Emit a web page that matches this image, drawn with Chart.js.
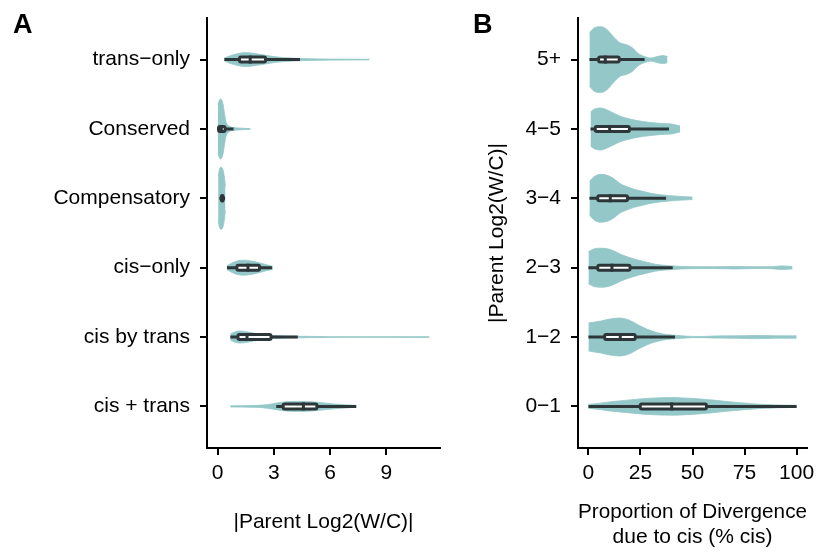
<!DOCTYPE html>
<html>
<head>
<meta charset="utf-8">
<script src="https://cdn.jsdelivr.net/npm/chart.js@4.4.1/dist/chart.umd.min.js"></script>
<style>
  body { margin: 0; background: #fff; }
  #wrap { position: relative; width: 817px; height: 552px; }
  canvas { position: absolute; top: 0; }
  .tag { position: absolute; font: bold 27px/27px "Liberation Sans", Arial, sans-serif; color: #000; }
</style>
</head>
<body>
<div id="wrap">
  <canvas id="chartA" width="450" height="552" style="left:0"></canvas>
  <canvas id="chartB" width="362" height="552" style="left:455px"></canvas>
  <div class="tag" style="left:13px;top:11px">A</div>
  <div class="tag" style="left:473px;top:11px">B</div>
</div>
<script>
// ---- panel A: regulatory categories ----
var typeLabels = ["trans\u2212only", "Conserved", "Compensatory", "cis\u2212only", "cis by trans", "cis + trans"];
var typeTicks = [0, 3, 6, 9];
// violin outline: x positions and density (relative width) at each
var typeGrid = [
  [0.36, 0.7, 1.1, 1.5, 2.0, 2.5, 3.0, 3.5, 4.0, 4.5, 5.0, 6.0, 7.0, 8.1],
  [0.02, 0.08, 0.15, 0.22, 0.3, 0.38, 0.45, 0.6, 0.8, 1.1, 1.4, 1.75],
  [0.03, 0.1, 0.18, 0.26, 0.34, 0.42],
  [0.5, 0.8, 1.1, 1.4, 1.7, 2.0, 2.3, 2.6, 2.95],
  [0.68, 0.9, 1.2, 1.5, 1.9, 2.4, 3.0, 3.6, 4.3, 5, 6, 7, 8, 9, 10, 11.3],
  [0.68, 1.2, 1.8, 2.4, 2.9, 3.3, 3.8, 4.3, 4.8, 5.3, 5.8, 6.3, 6.9, 7.4]
];
var typeDensity = [
  [1.5, 4, 6, 7, 6, 4.5, 3, 2, 1.5, 1, 0.8, 0.5, 0.4, 0.3],
  [24, 28, 30, 29, 24, 14, 7, 3, 1.5, 1, 0.6, 0.4],
  [22, 29, 31, 30, 24, 12],
  [2, 5, 7, 7.5, 7, 6, 4.5, 3, 1.5],
  [3, 5, 6, 5.5, 4, 2.5, 1.5, 1, 0.8, 0.6, 0.4, 0.3, 0.3, 0.3, 0.4, 0.4],
  [0.6, 0.7, 0.9, 1.3, 2.5, 3.8, 4.8, 5, 4.8, 4.2, 3.2, 2.3, 1.5, 1]
];
var typeLow = [0.36, 0, 0.1, 0.5, 0.68, 3.13];
var typeQ1 = [1.17, 0.05, 0.2, 1.03, 1.09, 3.5];
var typeMedian = [1.74, 0.2, 0.25, 1.62, 1.57, 4.58];
var typeQ3 = [2.56, 0.4, 0.3, 2.24, 2.85, 5.3];
var typeHigh = [4.4, 0.85, 0.4, 2.9, 4.28, 7.4];

// ---- panel B: fold-change bins ----
var foldLabels = ["5+", "4\u22125", "3\u22124", "2\u22123", "1\u22122", "0\u22121"];
var foldTicks = [0, 25, 50, 75, 100];
var foldGrid = [
  [0.5, 3, 6, 9, 12, 15, 18, 21, 24, 27, 30, 33, 36, 38],
  [1, 3, 6, 9, 12, 15, 18, 22, 26, 30, 35, 40, 44],
  [0.5, 3, 6, 9, 12, 15, 18, 22, 26, 30, 35, 40, 45, 50],
  [0, 3, 6, 9, 12, 16, 20, 24, 28, 32, 36, 40, 45, 50, 60, 70, 80, 88, 93, 98],
  [0, 3, 6, 9, 12, 15, 18, 21, 24, 28, 32, 36, 40, 45, 50, 55, 60, 70, 80, 85, 90, 95, 100],
  [0, 5, 10, 15, 20, 25, 30, 35, 40, 45, 50, 55, 60, 65, 70, 75, 80, 85, 90, 95, 100]
];
var foldDensity = [
  [27, 32, 33, 30, 23, 17, 15, 12, 6, 3, 1.5, 3, 4, 3],
  [17, 20, 21, 19, 16, 13, 11, 9, 7.5, 6.5, 5.5, 5, 3],
  [17, 22, 24, 23, 20, 15, 12, 9, 7, 5, 3.5, 2.5, 1.8, 1.2],
  [16, 19, 19.5, 19, 17, 13, 10, 7.5, 5.5, 3.5, 2.5, 1.8, 1.2, 1, 0.9, 1.3, 0.9, 1, 1.8, 1.2],
  [14, 15, 16, 17.5, 18.5, 19, 18, 15.5, 12, 8, 5, 3, 2, 1.2, 0.6, 0.6, 1, 1.2, 1.6, 1.5, 1.2, 1.2, 1.2],
  [2, 3, 4.5, 5.5, 6.5, 7.5, 8.2, 8.7, 8.8, 8.5, 8, 7.2, 6.3, 5.2, 4.2, 3.3, 2.5, 1.9, 1.5, 1.2, 1]
];
var foldLow = [0.5, 1, 0.5, 0, 0, 0];
var foldQ1 = [4.9, 3.3, 4.5, 4.5, 7.8, 24.9];
var foldMedian = [8.1, 10.2, 10.5, 11.3, 15.3, 40];
var foldQ3 = [14.8, 19.7, 18.8, 20, 22.5, 56.7];
var foldHigh = [27, 38.7, 37.3, 40.5, 41.6, 100];

var TEAL = "#93c7c8";
var DARK = "#2d3639";
var VSCALE = 1 / 69.4; // density -> category units
var FONT = { family: "'Liberation Sans', Arial, Helvetica, sans-serif", size: 21 };

// each violin = upper and lower outline, filled between them
function violinSets(grid, density) {
  var sets = [];
  grid.forEach(function (xs, i) {
    var d = density[i];
    sets.push({
      data: xs.map(function (x, j) { return { x: x, y: i - d[j] * VSCALE }; }),
      fill: "+1"
    });
    sets.push({
      data: xs.map(function (x, j) { return { x: x, y: i + d[j] * VSCALE }; }),
      fill: false
    });
  });
  sets.forEach(function (s) {
    s.backgroundColor = TEAL;
    s.borderColor = TEAL;
    s.borderWidth = 0.8;
    s.pointRadius = 0;
    s.cubicInterpolationMode = "monotone";
  });
  return sets;
}

// boxplot on top of the violins
function boxPlugin(low, q1, med, q3, high) {
  return {
    id: "boxes",
    afterDatasetsDraw: function (chart) {
      var ctx = chart.ctx, xs = chart.scales.x, ys = chart.scales.y;
      ctx.save();
      ctx.strokeStyle = DARK;
      ctx.lineWidth = 3;
      ctx.lineJoin = "round";
      low.forEach(function (lo, i) {
        var cy = ys.getPixelForValue(i);
        var a = xs.getPixelForValue(q1[i]);
        var b = xs.getPixelForValue(q3[i]);
        var m = xs.getPixelForValue(med[i]);
        ctx.beginPath();
        ctx.moveTo(xs.getPixelForValue(lo), cy);
        ctx.lineTo(xs.getPixelForValue(high[i]), cy);
        ctx.stroke();
        ctx.beginPath();
        ctx.roundRect(a, cy - 2.5, b - a, 5, 1.5);
        ctx.fillStyle = "#fff";
        ctx.fill();
        ctx.stroke();
        ctx.beginPath();
        ctx.moveTo(m, cy - 4);
        ctx.lineTo(m, cy + 4);
        ctx.stroke();
      });
      ctx.restore();
    }
  };
}

function axisX(min, max, ticks, title, titlePad, height) {
  return {
    type: "linear",
    min: min,
    max: max,
    afterBuildTicks: function (s) { s.ticks = ticks.map(function (v) { return { value: v }; }); },
    afterFit: function (s) { s.height = height; s.paddingLeft = 0; s.paddingRight = 0; },
    ticks: { font: FONT, color: "#000", padding: 6, maxRotation: 0 },
    grid: { drawOnChartArea: false, tickLength: 7, color: "#000", lineWidth: 2 },
    border: { color: "#000", width: 2 },
    title: { display: true, text: title, font: FONT, color: "#000", padding: titlePad }
  };
}

function axisY(labels, width, title) {
  var ax = {
    type: "linear",
    reverse: true,
    min: -0.6,
    max: 5.6,
    afterBuildTicks: function (s) { s.ticks = labels.map(function (l, i) { return { value: i }; }); },
    afterFit: function (s) { s.width = width; s.paddingTop = 0; s.paddingBottom = 0; },
    ticks: { font: FONT, color: "#000", padding: 10, callback: function (v) { return labels[v]; } },
    grid: { drawOnChartArea: false, tickLength: 7, color: "#000", lineWidth: 2 },
    border: { color: "#000", width: 2 }
  };
  if (title) {
    ax.title = { display: true, text: title, font: FONT, color: "#000", padding: { top: 30, bottom: 0 } };
  }
  return ax;
}

function baseOptions(x, y) {
  return {
    responsive: false,
    animation: false,
    devicePixelRatio: 1,
    layout: { padding: { top: 18, right: 10, left: 0, bottom: 0 } },
    plugins: { legend: { display: false }, tooltip: { enabled: false } },
    scales: { x: x, y: y }
  };
}

new Chart(document.getElementById("chartA"), {
  type: "line",
  data: { datasets: violinSets(typeGrid, typeDensity) },
  options: baseOptions(
    axisX(-0.565, 11.87, typeTicks, "|Parent Log2(W/C)|", { top: 0, bottom: 17 }, 104),
    axisY(typeLabels, 207)
  ),
  plugins: [boxPlugin(typeLow, typeQ1, typeMedian, typeQ3, typeHigh)]
});

new Chart(document.getElementById("chartB"), {
  type: "line",
  data: { datasets: violinSets(foldGrid, foldDensity) },
  options: baseOptions(
    axisX(-5, 105, foldTicks, ["Proportion of Divergence", "due to cis (% cis)"], { top: 0, bottom: 2 }, 104),
    axisY(foldLabels, 123, "|Parent Log2(W/C)|")
  ),
  plugins: [boxPlugin(foldLow, foldQ1, foldMedian, foldQ3, foldHigh)]
});
</script>
</body>
</html>
